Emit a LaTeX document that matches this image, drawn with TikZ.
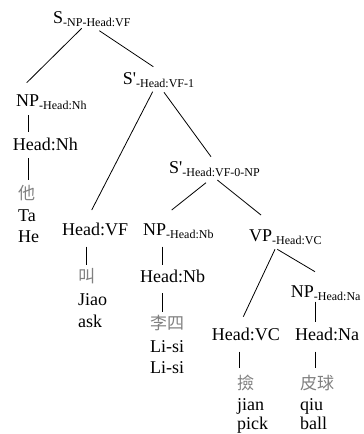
\documentclass[tikz,border=0pt]{standalone}
\usepackage{fontspec}
\setmainfont{Liberation Serif}
\newfontfamily\cjk{Noto Sans CJK TC}
\usetikzlibrary{calc}
\newcommand{\sbs}[1]{\raisebox{-3.5pt}{\fontsize{12}{13}\selectfont #1}}
\tikzset{
  cat/.style={anchor=base west, inner sep=0pt, font=\fontsize{18}{20}\selectfont},
  han/.style={anchor=base west, inner sep=0pt, text=gray, font=\cjk\fontsize{17}{19}\selectfont},
  branch/.style={line width=0.8pt}
}
\begin{document}
\begin{tikzpicture}[x=1pt,y=-1pt]
\useasboundingbox (0,0) rectangle (364,434);

%categories
\node[cat] (s) at (53,23) {S\sbs{-NP-Head:VF}};
\node[cat] (np1) at (16,106) {NP\sbs{-Head:Nh}};
\node[cat] (hnh) at (12.7,150) {Head:Nh};
\node[cat] (s1) at (122.7,84) {S\textquotesingle\sbs{-Head:VF-1}};
\node[cat] (s2) at (169,173) {S\textquotesingle\sbs{-Head:VF-0-NP}};
\node[cat] (hvf) at (62,235) {Head:VF};
\node[cat] (np2) at (143,235) {NP\sbs{-Head:Nb}};
\node[cat] (hnb) at (140,282) {Head:Nb};
\node[cat] (vp) at (249,241) {VP\sbs{-Head:VC}};
\node[cat] (np3) at (290.7,297) {NP\sbs{-Head:Na}};
\node[cat] (hvc) at (211.7,340) {Head:VC};
\node[cat] (hna) at (295,340) {Head:Na};

%words
\node[han] (w1c) at (18,199) {他};
\node[cat] (w1p) at (18,221) {Ta};
\node[cat] (w1e) at (18,242) {He};
\node[han] (w2c) at (78,282) {叫};
\node[cat] (w2p) at (78,305) {Jiao};
\node[cat] (w2e) at (78,327) {ask};
\node[han] (w3c) at (150,329) {李四};
\node[cat] (w3p) at (150,352) {Li-si};
\node[cat] (w3e) at (150,373) {Li-si};
\node[han] (w4c) at (237,389) {撿};
\node[cat] (w4p) at (237,410) {jian};
\node[cat] (w4e) at (237,429.5) {pick};
\node[han] (w5c) at (300,389) {皮球};
\node[cat] (w5p) at (300,410) {qiu};
\node[cat] (w5e) at (300,429.5) {ball};

%branches
\draw[branch] ($(s.base west)+(28.7,5.3)$) -- ($(np1.base west)+(10.7,-23.3)$);
\draw[branch] ($(s.base west)+(46.3,7.7)$) -- ($(s1.base west)+(30.6,-17.3)$);
\draw[branch] ($(np1.base west)+(12.3,9)$) -- ($(hnh.base west)+(15.6,-18)$);
\draw[branch] ($(hnh.base west)+(15.3,8)$) -- ($(w1c.base west)+(10,-19)$);
\draw[branch] ($(s1.base west)+(30,7.7)$) -- ($(hvf.base west)+(29.7,-25)$);
\draw[branch] ($(s1.base west)+(41.3,8.3)$) -- ($(s2.base west)+(42,-16.3)$);
\draw[branch] ($(s2.base west)+(37,9.7)$) -- ($(np2.base west)+(28.7,-25)$);
\draw[branch] ($(s2.base west)+(48.3,7)$) -- ($(vp.base west)+(12,-26)$);
\draw[branch] ($(hvf.base west)+(24.7,11.7)$) -- ($(w2c.base west)+(8.7,-17)$);
\draw[branch] ($(np2.base west)+(19.7,11.7)$) -- ($(hnb.base west)+(22.7,-17)$);
\draw[branch] ($(hnb.base west)+(22.7,11)$) -- ($(w3c.base west)+(12.7,-17.3)$);
\draw[branch] ($(vp.base west)+(26,8.3)$) -- ($(hvc.base west)+(31.6,-23.3)$);
\draw[branch] ($(vp.base west)+(28.3,8.3)$) -- ($(np3.base west)+(24.3,-25.3)$);
\draw[branch] ($(np3.base west)+(24.3,4.7)$) -- ($(hna.base west)+(20,-18.3)$);
\draw[branch] ($(hvc.base west)+(27.3,11.7)$) -- ($(w4c.base west)+(2,-20.7)$);
\draw[branch] ($(hna.base west)+(20,11.7)$) -- ($(w5c.base west)+(15,-20.7)$);

\end{tikzpicture}
\end{document}
